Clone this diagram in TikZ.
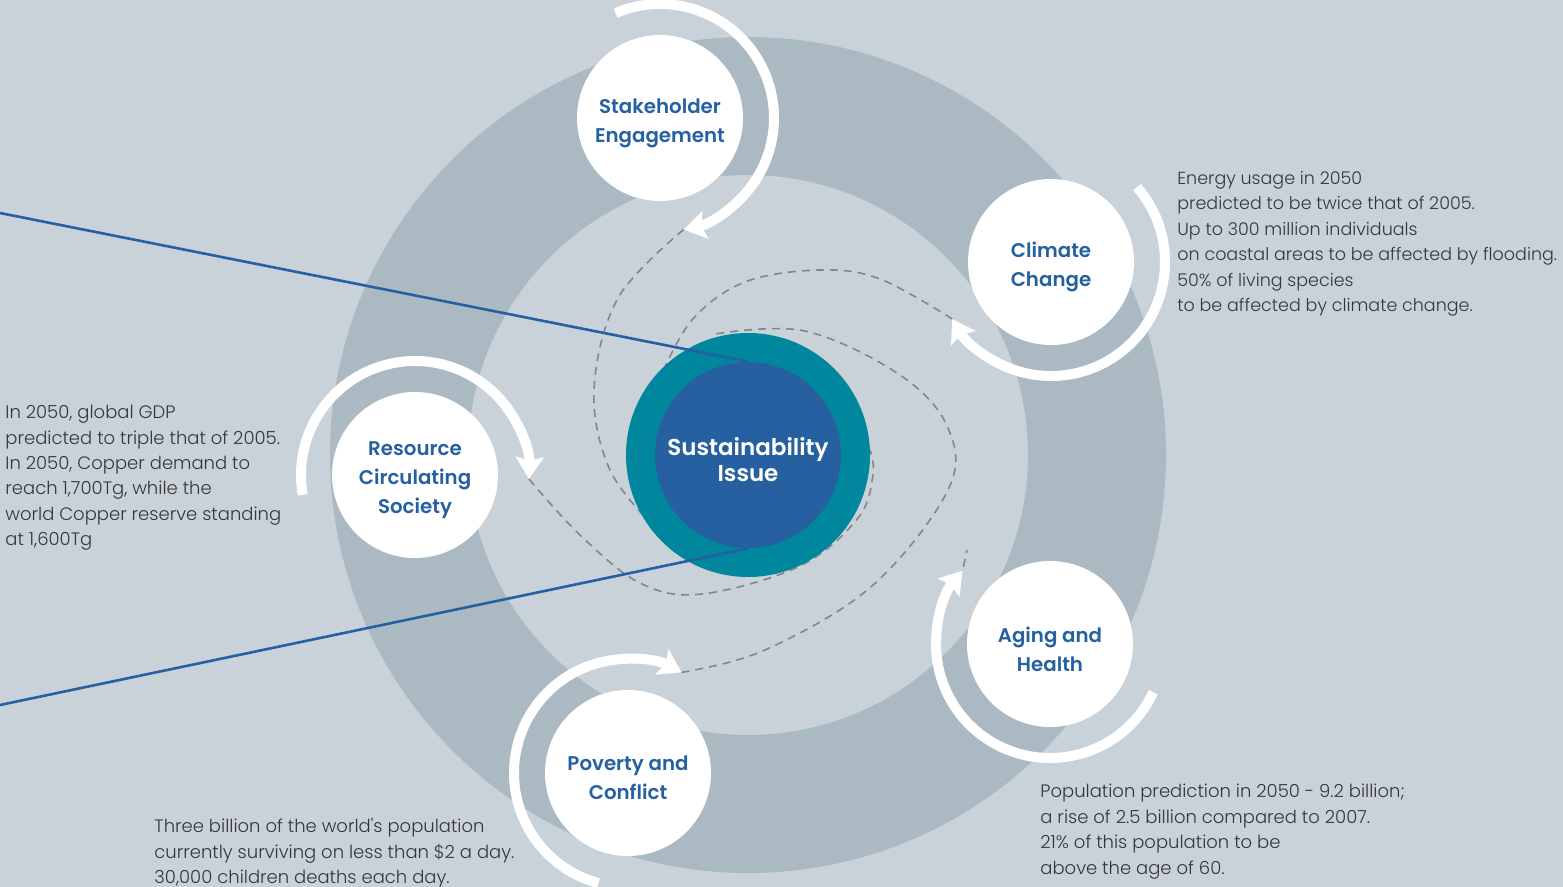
\documentclass[tikz,border=0pt]{standalone}
\usepackage{fontspec}
\setmainfont{Poppins}
\newfontfamily\notefont{Poppins Light}
\newfontfamily\tagfont{Poppins SemiBold}
\usepackage{tikz}
\usetikzlibrary{arrows.meta, positioning, calc}
\definecolor{sgbg}{HTML}{CAD2D9}
\definecolor{sgring}{HTML}{ABB9C3}
\definecolor{sgteal}{HTML}{00879E}
\definecolor{sgblue}{HTML}{2660A0}
\definecolor{sgdash}{HTML}{80878E}
\definecolor{sgtext}{HTML}{363636}
\tikzset{
  sgdisc/.style  = {circle, fill=white, minimum size=83pt, inner sep=0pt},
  sgtag/.style   = {align=center, text=sgblue, yshift=-2.5pt, inner sep=0pt,
                    font=\tagfont\fontsize{9.9}{14.5}\selectfont},
  sgcore/.style  = {circle, fill=sgteal, minimum size=122pt, inner sep=0pt},
  sginner/.style = {circle, fill=sgblue, minimum size=93pt, inner sep=0pt},
  sgmid/.style   = {align=center, text=white, yshift=-2.5pt, inner sep=0pt,
                    font=\tagfont\fontsize{11.5}{13}\selectfont},
  sgnote/.style  = {anchor=north west, inner sep=0pt, align=left, text=sgtext,
                    font=\notefont\fontsize{9}{12.7}\selectfont},
  sgflow/.style  = {draw=white, line width=5pt,
                    -{Stealth[length=11pt, width=14pt, inset=2pt]}},
  sgtrail/.style = {draw=sgdash, line width=0.8pt, dash pattern=on 4pt off 3pt},
  sglink/.style  = {draw=sgblue, line width=1.3pt},
}

\begin{document}
\begin{tikzpicture}[x=0.5pt, y=0.5pt]
  \fill[sgbg] (0,0) rectangle (1563,-887);
  \useasboundingbox (0,0) rectangle (1563,-887);
  \coordinate (hub) at (748,-455);
  \fill[sgring, even odd rule] (hub) circle[radius=209pt] (hub) circle[radius=140pt];

  \node[sgdisc, label={[sgtag]center:Stakeholder\\Engagement}] (stake) at (660,-118) {};
  \node[sgdisc, label={[sgtag]center:Climate\\Change}] (climate) at (1051,-262) {};
  \node[sgdisc, label={[sgtag]center:Resource\\Circulating\\Society}] (resource) at (415,-475) {};
  \node[sgdisc, label={[sgtag]center:Aging and\\Health}] (aging) at (1050,-644) {};
  \node[sgdisc, label={[sgtag]center:Poverty and\\Conflict}] (poverty) at (628,-773) {};

  \coordinate (stakeTip)    at ([shift={(-78:57pt)}]stake.center);
  \coordinate (climateTip)  at ([shift={(-150:57pt)}]climate.center);
  \coordinate (resourceTip) at ([shift={(-2:57pt)}]resource.center);
  \coordinate (agingTip)    at ([shift={(140:57pt)}]aging.center);
  \coordinate (povertyTip)  at ([shift={(62:57pt)}]poverty.center);
  \coordinate (agingEnd)    at (967,-550);

  \draw[sgtrail] plot[smooth, tension=0.6] coordinates {(stakeTip) (618,-298)
        (594,-390) (610,-470) (655,-528)};
  \draw[sgtrail] plot[smooth, tension=0.6] coordinates {(climateTip) (880,-279)
        (820,-270) (745,-282) (692,-320) (660,-378)};
  \draw[sgtrail] plot[smooth, tension=0.6] coordinates {(resourceTip) (580,-535)
        (640,-583) (702,-594) (800,-566) (858,-518) (873,-475) (870,-450)};
  \draw[sgtrail] plot[smooth, tension=0.6] coordinates {(povertyTip) (765,-650)
        (872,-586) (948,-490) (948,-428) (900,-375) (805,-331) (715,-334)};
  \draw[sgtrail, dash phase=5pt] (agingTip) -- (agingEnd);

  \node[sgcore] (core) at (hub) {};
  \node[sginner, label={[sgmid]center:Sustainability\\Issue}] (issue) at (hub) {};
  \coordinate (linkTop) at (0,-213);
  \coordinate (linkLow) at (0,-705);
  \draw[sglink] (linkTop) -- (issue.north);
  \draw[sglink] (linkLow) -- (issue.south);

  \draw[sgflow] ([shift={(113:57pt)}]stake.center)
        arc[start angle=113, end angle=-78, radius=57pt];
  \draw[sgflow] ([shift={(41:57pt)}]climate.center)
        arc[start angle=41, end angle=-150, radius=57pt];
  \draw[sgflow] ([shift={(190:57pt)}]resource.center)
        arc[start angle=190, end angle=-2, radius=57pt];
  \draw[sgflow] ([shift={(-25:57pt)}]aging.center)
        arc[start angle=-25, end angle=-220, radius=57pt];
  \draw[sgflow] ([shift={(255:57pt)}]poverty.center)
        arc[start angle=255, end angle=62, radius=57pt];

  \node[sgnote, font=\notefont\fontsize{8.75}{12.7}\selectfont] (climateNote)
        at (1177,-171) {Energy usage in 2050\\
        predicted to be twice that of 2005.\\Up to 300 million individuals\\
        on coastal areas to be affected by flooding.\\50\% of living species\\
        to be affected by climate change.};
  \node[sgnote] (resourceNote) at (5,-405) {In 2050, global GDP\\
        predicted to triple that of 2005.\\In 2050, Copper demand to\\
        reach 1,700Tg, while the\\world Copper reserve standing\\at 1,600Tg};
  \node[sgnote] (agingNote) at (1040,-784) {Population prediction in 2050 - 9.2 billion;\\
        a rise of 2.5 billion compared to 2007.\\21\% of this population to be\\
        above the age of 60.};
  \node[sgnote] (povertyNote) at (154,-818) {Three billion of the world's population\\
        currently surviving on less than \$2 a day.\\30,000 children deaths each day.};
\end{tikzpicture}
\end{document}
